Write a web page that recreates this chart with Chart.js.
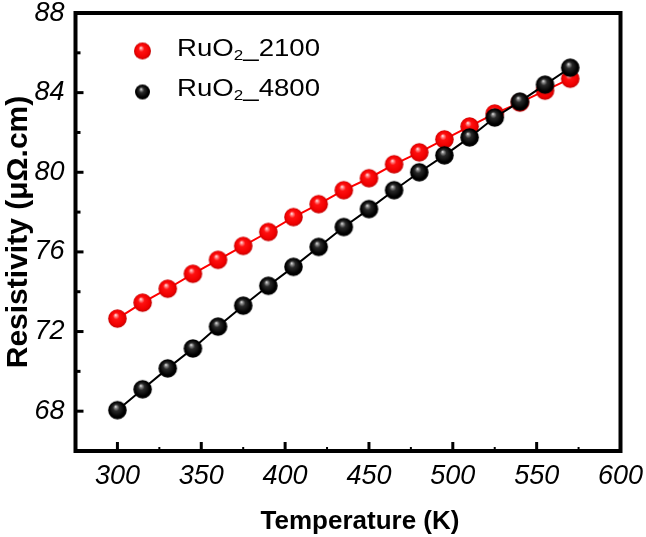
<!DOCTYPE html>
<html>
<head>
<meta charset="utf-8">
<script src="https://cdn.jsdelivr.net/npm/chart.js@4/dist/chart.umd.min.js"></script>
<style>
  html, body { margin: 0; padding: 0; background: #fff; }
  #wrap { position: relative; width: 646px; height: 537px; }
  canvas { display: block; }
  .leg { position: absolute; left: 177px; font-family: Arial, "Liberation Sans", sans-serif; font-size: 24px;
         line-height: 1; color: #000; white-space: nowrap; transform: scaleX(1.15); transform-origin: 0 50%; }
  .leg sub { font-size: 0.62em; vertical-align: -0.3em; line-height: 0; }
  #xtitle { position: absolute; left: 360px; top: 520px; transform: translate(-50%, -50%);
            font-family: Arial, "Liberation Sans", sans-serif; font-size: 26px; font-weight: bold;
            line-height: 1; color: #000; white-space: nowrap; }
</style>
</head>
<body>
<div id="wrap">
  <canvas id="c" width="646" height="537"></canvas>
  <div class="leg" id="leg1" style="top:36px">RuO<sub>2</sub>_2100</div>
  <div class="leg" id="leg2" style="top:76px">RuO<sub>2</sub>_4800</div>
  <div id="xtitle">Temperature (K)</div>
</div>
<script>
// ---- data ----
const temperatures = [300, 315, 330, 345, 360, 375, 390, 405, 420, 435, 450, 465, 480, 495, 510, 525, 540, 555, 570];
const ruo2_2100 = [72.65, 73.45, 74.15, 74.9, 75.6, 76.3, 77.0, 77.75, 78.4, 79.1, 79.7, 80.4, 81.0, 81.65, 82.3, 82.95, 83.5, 84.1, 84.7];
const ruo2_4800 = [68.05, 69.1, 70.15, 71.15, 72.25, 73.3, 74.3, 75.25, 76.25, 77.25, 78.15, 79.1, 80.0, 80.85, 81.75, 82.75, 83.55, 84.4, 85.25];
const seriesNames = ['RuO2_2100', 'RuO2_4800'];
const xTickLabels = [300, 350, 400, 450, 500, 550, 600];
const yTickLabels = [68, 72, 76, 80, 84, 88];

const FONT = 'Arial, "Liberation Sans", sans-serif';

function makeBall(r, stops) {
  const s = Math.ceil(2 * r + 2);
  const cv = document.createElement('canvas');
  cv.width = s; cv.height = s;
  const g = cv.getContext('2d');
  const c = s / 2;
  const grad = g.createRadialGradient(c - 0.2 * r, c - 0.4 * r, 0, c, c, r);
  stops.forEach(([o, col]) => grad.addColorStop(o, col));
  g.fillStyle = grad;
  g.beginPath(); g.arc(c, c, r, 0, Math.PI * 2); g.fill();
  return cv;
}
const redStops = [[0, '#ffffff'], [0.12, '#ff9a9a'], [0.35, '#ff1010'], [0.8, '#f00000'], [1, '#c00000']];
const blackStops = [[0, '#ffffff'], [0.12, '#9a9a9a'], [0.35, '#2a2a2a'], [0.8, '#000000'], [1, '#000000']];
const redBall = makeBall(9.3, redStops);
const blackBall = makeBall(9.3, blackStops);
const redBallLeg = makeBall(8.5, redStops);
const blackBallLeg = makeBall(7.5, blackStops);

const framePlugin = {
  id: 'frame',
  afterDraw(chart) {
    const { ctx, chartArea: a, scales } = chart;
    ctx.save();
    ctx.strokeStyle = '#000';
    ctx.lineCap = 'butt';
    scales.y.ticks.forEach(t => {
      const v = t.value;
      if (v <= scales.y.min || v >= scales.y.max) return;
      const y = scales.y.getPixelForValue(v);
      const major = yTickLabels.includes(v);
      ctx.lineWidth = 3;
      ctx.beginPath(); ctx.moveTo(a.left, y); ctx.lineTo(a.left + (major ? 8 : 5), y); ctx.stroke();
    });
    scales.x.ticks.forEach(t => {
      const v = t.value;
      if (v <= scales.x.min || v >= scales.x.max) return;
      const x = scales.x.getPixelForValue(v);
      const major = xTickLabels.includes(v);
      ctx.lineWidth = major ? 3 : 2;
      ctx.beginPath(); ctx.moveTo(x, a.bottom); ctx.lineTo(x, a.bottom - (major ? 9 : 4)); ctx.stroke();
    });
    ctx.lineWidth = 4;
    ctx.lineJoin = 'miter';
    ctx.strokeRect(a.left, a.top, a.right - a.left, a.bottom - a.top);
    ctx.drawImage(redBallLeg, a.left + 67 - redBallLeg.width / 2, a.top + 38 - redBallLeg.height / 2);
    ctx.drawImage(blackBallLeg, a.left + 67 - blackBallLeg.width / 2, a.top + 79 - blackBallLeg.height / 2);
    ctx.restore();
  }
};

new Chart(document.getElementById('c'), {
  type: 'line',
  data: {
    datasets: [
      {
        label: seriesNames[1],
        data: temperatures.map((t, i) => ({ x: t, y: ruo2_4800[i] })),
        borderColor: '#000000',
        borderWidth: 2,
        pointStyle: blackBall,
        tension: 0,
        order: 0
      },
      {
        label: seriesNames[0],
        data: temperatures.map((t, i) => ({ x: t, y: ruo2_2100[i] })),
        borderColor: '#ff0000',
        borderWidth: 2,
        pointStyle: redBall,
        tension: 0,
        order: 1
      }
    ]
  },
  options: {
    responsive: false,
    animation: false,
    events: [],
    layout: { padding: { top: 13, right: 25.5, left: 0, bottom: 0 } },
    plugins: { legend: { display: false }, tooltip: { enabled: false } },
    scales: {
      x: {
        type: 'linear',
        min: 275, max: 600,
        grid: { display: false, drawTicks: false },
        border: { display: false },
        ticks: {
          stepSize: 25, autoSkip: false, maxRotation: 0, padding: 9,
          color: '#000',
          font: { family: FONT, size: 27, style: 'italic' },
          callback: v => xTickLabels.includes(v) ? String(v) : ''
        },
        title: { display: false },
        afterFit(s) { s.height = 86; s.paddingLeft = 0; s.paddingRight = 0; }
      },
      y: {
        type: 'linear',
        min: 66, max: 88,
        grid: { display: false, drawTicks: false },
        border: { display: false },
        ticks: {
          stepSize: 2, autoSkip: false, padding: 11,
          color: '#000',
          font: { family: FONT, size: 27, style: 'italic' },
          callback: v => yTickLabels.includes(v) ? String(v) : ''
        },
        title: {
          display: true, text: 'Resistivity (μΩ.cm)', color: '#000',
          font: { family: FONT, size: 30, weight: 'bold' },
          padding: { top: 1, bottom: 0 }
        },
        afterFit(s) { s.width = 75.5; s.paddingTop = 0; s.paddingBottom = 0; }
      }
    }
  },
  plugins: [framePlugin]
});
</script>
</body>
</html>
